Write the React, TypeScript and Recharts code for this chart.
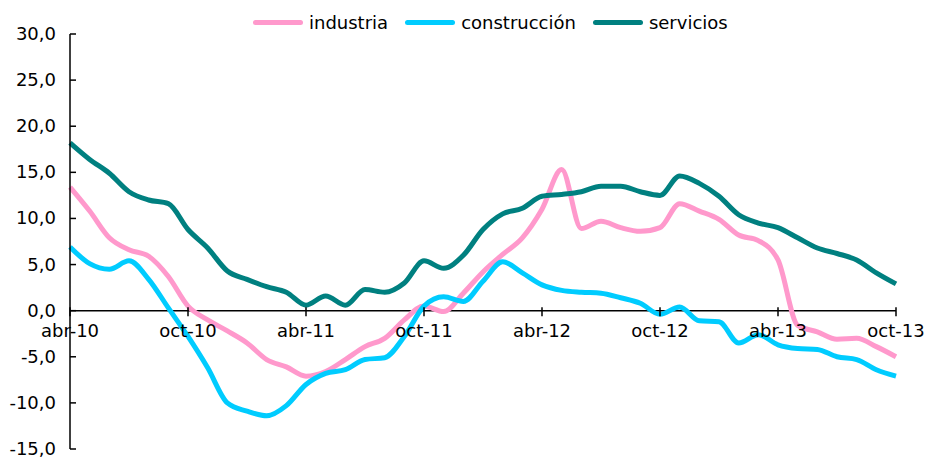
import { Line, LineChart, ReferenceLine, XAxis, YAxis } from 'recharts';

const months = [
  'abr-10', 'may-10', 'jun-10', 'jul-10', 'ago-10', 'sep-10',
  'oct-10', 'nov-10', 'dic-10', 'ene-11', 'feb-11', 'mar-11',
  'abr-11', 'may-11', 'jun-11', 'jul-11', 'ago-11', 'sep-11',
  'oct-11', 'nov-11', 'dic-11', 'ene-12', 'feb-12', 'mar-12',
  'abr-12', 'may-12', 'jun-12', 'jul-12', 'ago-12', 'sep-12',
  'oct-12', 'nov-12', 'dic-12', 'ene-13', 'feb-13', 'mar-13',
  'abr-13', 'may-13', 'jun-13', 'jul-13', 'ago-13', 'sep-13',
  'oct-13',
];

const industria = [
  13.4, 10.8, 7.9, 6.6, 5.9, 3.7, 0.5, -1.0, -2.2, -3.5, -5.3, -6.1,
  -7.1, -6.6, -5.3, -3.9, -3.0, -1.0, 0.5, -0.1, 1.9, 4.2, 6.1, 7.9,
  11.0, 15.3, 8.9, 9.7, 9.0, 8.6, 9.0, 11.6, 10.8, 9.9, 8.2, 7.6,
  5.5, -1.6, -2.3, -3.1, -3.0, -3.9, -5.0,
];

const construccion = [
  6.9, 5.1, 4.5, 5.4, 3.4, 0.3, -2.8, -6.2, -10.0, -10.9, -11.4, -10.3,
  -8.0, -6.8, -6.4, -5.3, -5.1, -2.8, 0.5, 1.5, 1.0, 3.2, 5.3, 4.1,
  2.8, 2.2, 2.0, 1.9, 1.4, 0.8, -0.4, 0.4, -1.1, -1.2, -3.5, -2.6,
  -3.7, -4.1, -4.2, -5.0, -5.3, -6.4, -7.1,
];

const servicios = [
  18.2, 16.4, 14.9, 12.9, 12.0, 11.6, 8.8, 6.8, 4.3, 3.4, 2.6, 2.0,
  0.6, 1.6, 0.6, 2.3, 2.0, 3.0, 5.4, 4.6, 6.0, 8.8, 10.5, 11.1,
  12.4, 12.6, 12.9, 13.5, 13.5, 12.9, 12.5, 14.6, 13.8, 12.4, 10.4, 9.5,
  9.0, 7.9, 6.8, 6.2, 5.5, 4.1, 2.9,
];

const yTicks = [-15, -10, -5, 0, 5, 10, 15, 20, 25, 30];

const series = [
  { key: 'industria', name: 'industria', color: '#FF99CC' },
  { key: 'construccion', name: 'construcción', color: '#00CCFF' },
  { key: 'servicios', name: 'servicios', color: '#008080' },
];

const W = 926;
const H = 459;
const M = { top: 34, right: 30, left: 0, bottom: 9 };
const Y_MIN = -15;
const Y_MAX = 30;
const AXIS_X = 70;
const FONT = '"DejaVu Sans", Verdana, sans-serif';
const plotH = H - M.top - M.bottom;
const zeroY = M.top + (plotH * Y_MAX) / (Y_MAX - Y_MIN);

const data = months.map((m, i) => ({
  month: m,
  industria: industria[i],
  construccion: construccion[i],
  servicios: servicios[i],
}));

const fmt = (v: number) => v.toFixed(1).replace('.', ',');

function XTick({ x, payload }: any) {
  return (
    <g>
      <line x1={x} x2={x} y1={zeroY - 4} y2={zeroY + 5} stroke="#000" strokeWidth={1.5} />
      <text x={x} y={zeroY + 26} textAnchor="middle" fontSize={18} fontFamily={FONT} fill="#000">
        {payload.value}
      </text>
    </g>
  );
}

function YTick({ y, payload }: any) {
  return (
    <g>
      <line x1={AXIS_X} x2={AXIS_X + 6} y1={y} y2={y} stroke="#000" strokeWidth={1.5} />
      <text x={AXIS_X - 14} y={y + 6} textAnchor="end" fontSize={18} fontFamily={FONT} fill="#000">
        {fmt(payload.value)}
      </text>
    </g>
  );
}

export default function App() {
  return (
    <div style={{ position: 'absolute', left: 0, top: 0, width: W, height: H, background: '#fff' }}>
      <div
        style={{
          position: 'absolute',
          left: 253,
          top: 12,
          display: 'flex',
          alignItems: 'center',
          fontFamily: FONT,
          fontSize: 18,
          color: '#000',
          zIndex: 1,
        }}
      >
        {series.map((s) => (
          <div key={s.key} style={{ display: 'flex', alignItems: 'center', marginRight: 17 }}>
            <span
              style={{
                display: 'inline-block',
                width: 50,
                height: 5,
                borderRadius: 3,
                background: s.color,
                marginRight: 6,
              }}
            />
            <span>{s.name}</span>
          </div>
        ))}
      </div>
      <LineChart width={W} height={H} data={data} margin={M}>
        <XAxis
          dataKey="month"
          interval={5}
          axisLine={false}
          tickLine={false}
          height={1}
          tick={<XTick />}
        />
        <YAxis
          domain={[Y_MIN, Y_MAX]}
          ticks={yTicks}
          width={AXIS_X}
          tickLine={false}
          axisLine={{ stroke: '#000', strokeWidth: 1.5 }}
          tick={<YTick />}
          interval={0}
        />
        <ReferenceLine y={0} stroke="#000" strokeWidth={1.5} />
        {series.map((s) => (
          <Line
            key={s.key}
            type="monotone"
            dataKey={s.key}
            name={s.name}
            stroke={s.color}
            strokeWidth={5}
            dot={false}
            activeDot={false}
            isAnimationActive={false}
          />
        ))}
      </LineChart>
    </div>
  );
}
